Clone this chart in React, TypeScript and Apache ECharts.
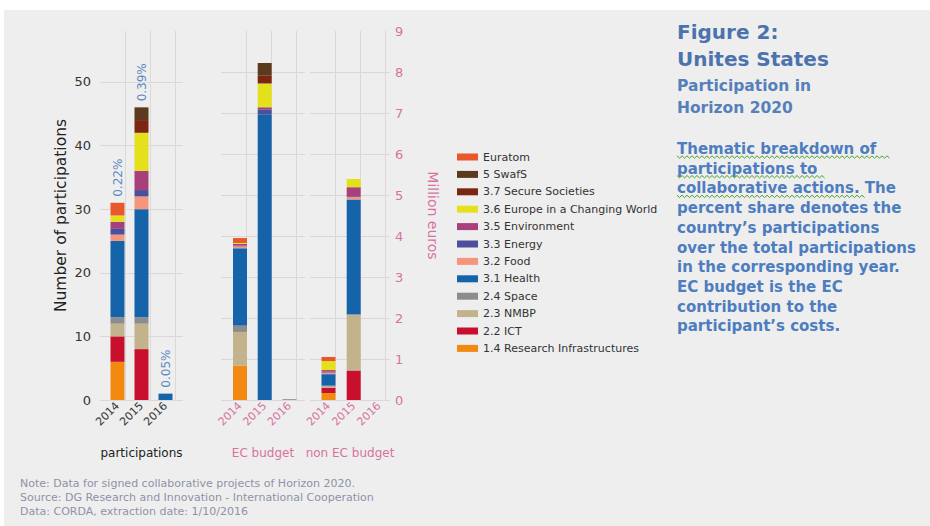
import React, { useEffect, useRef } from "react";
import * as echarts from "echarts";

// ---------- data ----------
const years = ["2014", "2015", "2016"];

// stacking order, bottom to top
const themes = [
  "1.4 Research Infrastructures",
  "2.2 ICT",
  "2.3 NMBP",
  "2.4 Space",
  "3.1 Health",
  "3.2 Food",
  "3.3 Energy",
  "3.5 Environment",
  "3.6 Europe in a Changing World",
  "3.7 Secure Societies",
  "5 SwafS",
  "Euratom",
];
const themeColors = [
  "#f28a12",
  "#c8102e",
  "#c2b38c",
  "#8c8c8c",
  "#1563a8",
  "#f5957c",
  "#4b4f9c",
  "#a8407c",
  "#e4e11c",
  "#7a2612",
  "#5c3a1e",
  "#e8582c",
];

// participations per theme (theme order above)
const participations2014 = [6, 4, 2, 1, 12, 1, 1, 1, 1, 0, 0, 2];
const participations2015 = [0, 8, 4, 1, 17, 2, 1, 3, 6, 2, 2, 0];
const participations2016 = [0, 0, 0, 0, 1, 0, 0, 0, 0, 0, 0, 0];

// EC budget, million euros
const ecBudget2014 = [0.84, 0, 0.82, 0.16, 1.88, 0.05, 0.02, 0.04, 0.02, 0, 0, 0.12];
const ecBudget2015 = [0, 0, 0, 0, 6.97, 0, 0.12, 0.05, 0.58, 0.2, 0.3, 0];
const ecBudget2016 = [0, 0, 0, 0.02, 0, 0, 0, 0, 0, 0, 0, 0];

// non EC budget, million euros
const nonEcBudget2014 = [0.17, 0.13, 0.03, 0.02, 0.28, 0.04, 0.02, 0.04, 0.22, 0, 0, 0.1];
const nonEcBudget2015 = [0, 0.72, 1.35, 0.02, 2.8, 0.06, 0.02, 0.22, 0.2, 0, 0, 0];
const nonEcBudget2016 = [0, 0, 0, 0, 0, 0, 0, 0, 0, 0, 0, 0];

const shareLabels = ["0.22%", "0.39%", "0.05%"];

const titleLines = ["Figure 2:", "Unites States"];
const subtitleLines = ["Participation in", "Horizon 2020"];
const descriptionLines = [
  "Thematic breakdown of",
  "participations to",
  "collaborative actions. The",
  "percent share denotes the",
  "country\u2019s participations",
  "over the total participations",
  "in the corresponding year.",
  "EC budget is the EC",
  "contribution to the",
  "participant\u2019s costs.",
];
const underlinedText = ["Thematic breakdown of", "participations to", "collaborative actions."];
const noteLines = [
  "Note: Data for signed collaborative projects of Horizon 2020.",
  "Source: DG Research and Innovation - International Cooperation",
  "Data: CORDA, extraction date: 1/10/2016",
];

// ---------- layout ----------
const FONT = "DejaVu Sans";
const PINK = "#d8729f";
const GRID_TOP = 31;
const GRID_H = 369;

const panels = [
  {
    name: "participations",
    values: [participations2014, participations2015, participations2016],
    left: 100,
    width: 83,
    max: 58,
    firstBar: 117.5,
    step: 24,
    textColor: "#333333",
    nameColor: "#222222",
    gridColor: "#d9d9d9",
  },
  {
    name: "EC budget",
    values: [ecBudget2014, ecBudget2015, ecBudget2016],
    left: 221,
    width: 84,
    max: 9,
    firstBar: 240,
    step: 24.7,
    textColor: PINK,
    nameColor: PINK,
    gridColor: "#ddd5d9",
  },
  {
    name: "non EC budget",
    values: [nonEcBudget2014, nonEcBudget2015, nonEcBudget2016],
    left: 310,
    width: 80,
    max: 9,
    firstBar: 328.5,
    step: 25.2,
    textColor: PINK,
    nameColor: PINK,
    gridColor: "#ddd5d9",
  },
];

function wave(x0: number, x1: number, y: number): number[][] {
  const pts: number[][] = [];
  let k = 0;
  for (let x = x0; x <= x1; x += 2.5) {
    pts.push([x, y + (k % 2 === 0 ? -1.2 : 1.2)]);
    k++;
  }
  return pts;
}

function buildOption() {
  const n = panels.length;
  // grids 0..2: background frames (grid lines, names, value labels)
  // grids 3..5: bar grids (category bands centred on the bars)
  const grid: any[] = [
    ...panels.map((p) => ({ left: p.left, top: GRID_TOP, width: p.width, height: GRID_H })),
    ...panels.map((p) => ({
      left: p.firstBar - p.step / 2,
      top: GRID_TOP,
      width: p.step * years.length,
      height: GRID_H,
    })),
  ];

  const xAxis: any[] = [
    ...panels.map((p, gi) => ({
      type: "value",
      gridIndex: gi,
      min: 0,
      max: p.width,
      interval: 25,
      name: p.name,
      nameLocation: "middle",
      nameGap: 47,
      nameTextStyle: { fontFamily: FONT, fontSize: 12, color: p.nameColor },
      axisLine: { show: false },
      axisTick: { show: false },
      axisLabel: { show: false },
      splitLine: {
        show: true,
        showMinLine: false,
        showMaxLine: false,
        lineStyle: { color: p.gridColor, width: 1 },
      },
    })),
    ...panels.map((p, gi) => ({
      type: "category",
      gridIndex: n + gi,
      data: years,
      boundaryGap: true,
      axisLine: { show: false },
      axisTick: { show: false },
      splitLine: { show: false },
      axisLabel: {
        rotate: 45,
        margin: 4,
        interval: 0,
        fontFamily: FONT,
        fontSize: 11,
        color: p.textColor,
      },
    })),
  ];

  const yAxis: any[] = [
    ...panels.map((p, gi) => {
      const base: any = {
        type: "value",
        gridIndex: gi,
        min: 0,
        max: p.max,
        interval: gi === 0 ? 10 : 1,
        axisLine: { show: false },
        axisTick: { show: false },
        splitLine: {
          show: true,
          showMaxLine: false,
          lineStyle: { color: p.gridColor, width: 1 },
        },
      };
      if (gi === 0) {
        base.name = "Number of participations";
        base.nameLocation = "middle";
        base.nameGap = 31;
        base.nameTextStyle = { fontFamily: FONT, fontSize: 15.5, color: "#222222" };
        base.axisLabel = {
          showMaxLabel: false,
          margin: 9,
          fontFamily: FONT,
          fontSize: 13,
          color: "#333333",
        };
      } else if (gi === 1) {
        base.axisLabel = { show: false };
      } else {
        base.position = "right";
        base.name = "Million euros";
        base.nameLocation = "middle";
        base.nameRotate = -90;
        base.nameGap = 36;
        base.nameTextStyle = { fontFamily: FONT, fontSize: 14, color: PINK };
        base.axisLabel = { margin: 5, fontFamily: FONT, fontSize: 13, color: PINK };
      }
      return base;
    }),
    ...panels.map((p, gi) => ({
      type: "value",
      gridIndex: n + gi,
      min: 0,
      max: p.max,
      show: false,
      splitLine: { show: false },
    })),
  ];

  const series: any[] = [];
  panels.forEach((p, gi) => {
    themes.forEach((t, ti) => {
      series.push({
        type: "bar",
        name: t,
        xAxisIndex: n + gi,
        yAxisIndex: n + gi,
        stack: "panel" + gi,
        barWidth: 14,
        itemStyle: { color: themeColors[ti] },
        data: years.map((_, yi) => p.values[yi][ti]),
        silent: true,
      });
    });
  });

  const totals = panels[0].values.map((arr) => arr.reduce((a, b) => a + b, 0));
  series.push({
    type: "custom",
    xAxisIndex: n,
    yAxisIndex: n,
    silent: true,
    z: 10,
    data: years.map((_, yi) => [yi, totals[yi]]),
    renderItem: (params: any, api: any) => {
      const pt = api.coord([api.value(0), api.value(1)]);
      return {
        type: "text",
        x: pt[0],
        y: pt[1] - 6,
        rotation: Math.PI / 2,
        style: {
          text: shareLabels[params.dataIndex],
          fill: "#5b8ac4",
          font: `12px "${FONT}"`,
          align: "left",
          verticalAlign: "middle",
        },
      };
    },
  });

  const graphic: any[] = [
    { type: "rect", shape: { x: 0, y: 0, width: 930, height: 10 }, style: { fill: "#ffffff" }, z: 100 },
    { type: "rect", shape: { x: 0, y: 0, width: 4, height: 526 }, style: { fill: "#ffffff" }, z: 100 },
  ];

  const TX = 677;
  titleLines.forEach((t, i) => {
    graphic.push({
      type: "text",
      x: TX,
      y: 32 + i * 27,
      style: {
        text: t,
        fill: "#4b73ad",
        font: `bold 20px "${FONT}"`,
        verticalAlign: "middle",
      },
    });
  });
  subtitleLines.forEach((t, i) => {
    graphic.push({
      type: "text",
      x: TX,
      y: 86 + i * 22,
      style: {
        text: t,
        fill: "#5580ba",
        font: `bold 15.5px "${FONT}"`,
        verticalAlign: "middle",
      },
    });
  });
  descriptionLines.forEach((t, i) => {
    graphic.push({
      type: "text",
      x: TX,
      y: 149 + i * 19.7,
      style: {
        text: t,
        fill: "#4d7dbf",
        font: `bold 15px "${FONT}"`,
        verticalAlign: "middle",
      },
    });
  });
  const underlineWidths = [213, 149, 189];
  underlinedText.forEach((t, i) => {
    graphic.push({
      type: "polyline",
      shape: { points: wave(TX, TX + underlineWidths[i], 149 + i * 19.7 + 8) },
      style: { stroke: "#4aa02c", lineWidth: 1, fill: null },
      z: 5,
    });
  });
  noteLines.forEach((t, i) => {
    graphic.push({
      type: "text",
      x: 20,
      y: 483 + i * 14,
      style: {
        text: t,
        fill: "#8f92a8",
        font: `11px "${FONT}"`,
        verticalAlign: "middle",
      },
    });
  });

  return {
    animation: false,
    backgroundColor: "#eeeeee",
    grid,
    xAxis,
    yAxis,
    legend: {
      orient: "vertical",
      left: 457,
      top: 151,
      padding: 0,
      itemWidth: 21,
      itemHeight: 7,
      itemGap: 5.4,
      icon: "rect",
      selectedMode: false,
      data: [...themes].reverse(),
      textStyle: { fontFamily: FONT, fontSize: 11, color: "#333333", lineHeight: 12 },
    },
    series,
    graphic,
  };
}

export default function App() {
  const ref = useRef<HTMLDivElement>(null);
  useEffect(() => {
    if (!ref.current) return;
    const chart = echarts.init(ref.current, undefined, { renderer: "svg" });
    chart.setOption(buildOption() as any);
    return () => chart.dispose();
  }, []);
  return (
    <div
      ref={ref}
      style={{ position: "absolute", left: 0, top: 0, width: 930, height: 526 }}
    />
  );
}
